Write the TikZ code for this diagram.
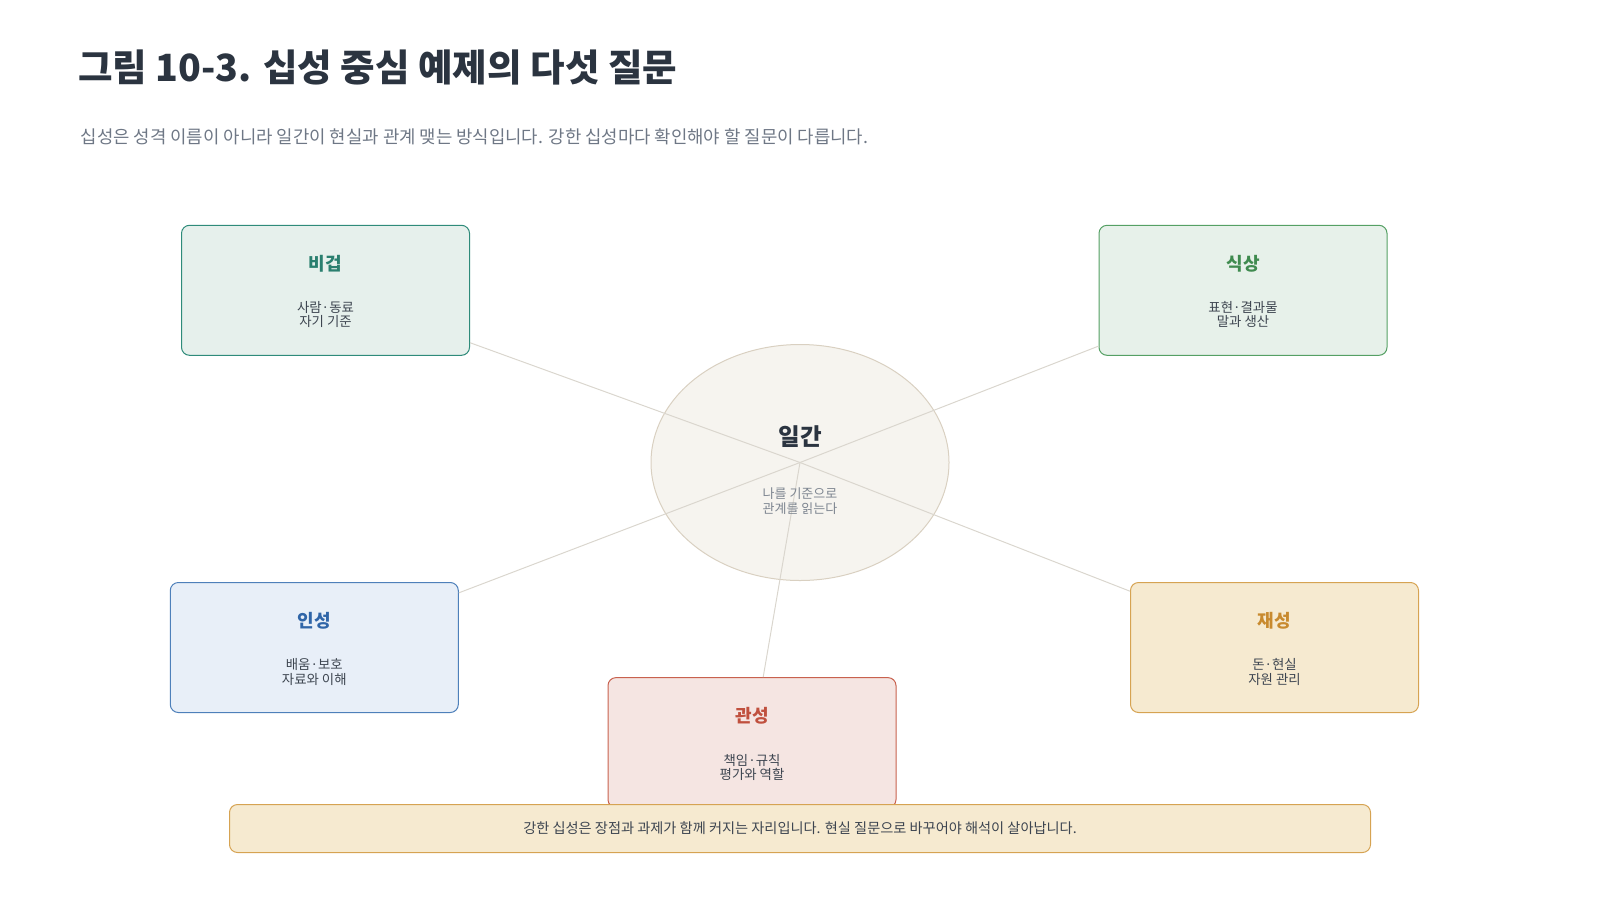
\documentclass[tikz,border=0pt]{standalone}
\usepackage{fontspec}
\setmainfont{Noto Sans CJK KR}
\usetikzlibrary{shapes.geometric}
\definecolor{titlecol}{HTML}{2B3440}
\definecolor{subcol}{HTML}{6E7785}
\definecolor{bodycol}{HTML}{3D4550}
\definecolor{linkcol}{HTML}{DAD6CE}
\definecolor{ellfill}{HTML}{F6F4EF}
\definecolor{elldraw}{HTML}{D9D0C1}
\definecolor{ellsub}{HTML}{7D8590}
\definecolor{tealfill}{HTML}{E6F0EC}
\definecolor{tealdraw}{HTML}{2E8B7A}
\definecolor{tealtext}{HTML}{2A7F6F}
\definecolor{greenfill}{HTML}{E7F1EA}
\definecolor{greendraw}{HTML}{55A064}
\definecolor{greentext}{HTML}{3F8B4F}
\definecolor{bluefill}{HTML}{E8EFF8}
\definecolor{bluedraw}{HTML}{4E80BA}
\definecolor{bluetext}{HTML}{2F65A8}
\definecolor{goldfill}{HTML}{F6EAD0}
\definecolor{golddraw}{HTML}{D6A352}
\definecolor{goldtext}{HTML}{C88A2E}
\definecolor{redfill}{HTML}{F5E5E2}
\definecolor{reddraw}{HTML}{C8614E}
\definecolor{redtext}{HTML}{C0503E}
\tikzset{
  card/.style={draw, rounded corners=8pt, minimum width=288pt, minimum height=130pt, line width=1pt, inner sep=0pt},
  cardtitle/.style={font=\fontsize{18}{21}\selectfont\bfseries, inner sep=0pt},
  cardbody/.style={font=\fontsize{13.4}{14.3}\selectfont, text=bodycol, align=center, inner sep=0pt},
  link/.style={draw=linkcol, line width=1pt},
}
\begin{document}
\begin{tikzpicture}[x=1pt,y=-1pt]
\useasboundingbox (0,0) rectangle (1600,900);
% title and subtitle
\node[anchor=west, inner sep=0pt, text=titlecol, font=\fontsize{37.5}{42}\selectfont\bfseries] (title) at (78,67) {그림 10-3. 십성 중심 예제의 다섯 질문};
\node[anchor=west, inner sep=0pt, text=subcol, font=\fontsize{17.8}{21}\selectfont] (subtitle) at (80.5,137) {십성은 성격 이름이 아니라 일간이 현실과 관계 맺는 방식입니다. 강한 십성마다 확인해야 할 질문이 다릅니다.};
% center ellipse
\node[ellipse, draw=elldraw, fill=ellfill, line width=1pt, minimum width=298pt, minimum height=236pt, inner sep=0pt] (ilgan) at (800,462.5) {};
% cards
\node[card, draw=tealdraw, fill=tealfill] (bigeop) at (325.5,290.3) {};
\node[card, draw=greendraw, fill=greenfill] (siksang) at (1243,290.3) {};
\node[card, draw=bluedraw, fill=bluefill] (inseong) at (314.3,647.5) {};
\node[card, draw=golddraw, fill=goldfill] (jaeseong) at (1274.5,647.5) {};
\node[card, draw=reddraw, fill=redfill] (gwanseong) at (752,742.6) {};
% connectors
\draw[link] (ilgan.center) -- (bigeop);
\draw[link] (ilgan.center) -- (siksang);
\draw[link] (ilgan.center) -- (inseong);
\draw[link] (ilgan.center) -- (jaeseong);
\draw[link] (ilgan.center) -- (gwanseong);
% center labels
\node[inner sep=0pt, text=titlecol, font=\fontsize{23.5}{27}\selectfont\bfseries] (ilganT) at (800,437) {일간};
\node[inner sep=0pt, text=ellsub, align=center, font=\fontsize{13}{14.8}\selectfont] (ilganB) at (800,501) {나를 기준으로\\관계를 읽는다};
% card labels
\node[cardtitle, text=tealtext] (bigeopT) at ([yshift=-39pt]bigeop.north) {비겁};
\node[cardbody] (bigeopB) at ([yshift=-90pt]bigeop.north) {사람·동료\\자기 기준};
\node[cardtitle, text=greentext] (siksangT) at ([yshift=-39pt]siksang.north) {식상};
\node[cardbody] (siksangB) at ([yshift=-90pt]siksang.north) {표현·결과물\\말과 생산};
\node[cardtitle, text=bluetext] (inseongT) at ([yshift=-39pt]inseong.north) {인성};
\node[cardbody] (inseongB) at ([yshift=-90pt]inseong.north) {배움·보호\\자료와 이해};
\node[cardtitle, text=goldtext] (jaeseongT) at ([yshift=-39pt]jaeseong.north) {재성};
\node[cardbody] (jaeseongB) at ([yshift=-90pt]jaeseong.north) {돈·현실\\자원 관리};
\node[cardtitle, text=redtext] (gwanseongT) at ([yshift=-39pt]gwanseong.north) {관성};
\node[cardbody] (gwanseongB) at ([yshift=-90pt]gwanseong.north) {책임·규칙\\평가와 역할};
% note
\node[draw=golddraw, fill=goldfill, rounded corners=8pt, line width=1pt, minimum width=1141pt, minimum height=48pt, inner sep=0pt, text=bodycol, font=\fontsize{14.2}{17}\selectfont] (note) at (800,828.5) {강한 십성은 장점과 과제가 함께 커지는 자리입니다. 현실 질문으로 바꾸어야 해석이 살아납니다.};
\end{tikzpicture}
\end{document}
